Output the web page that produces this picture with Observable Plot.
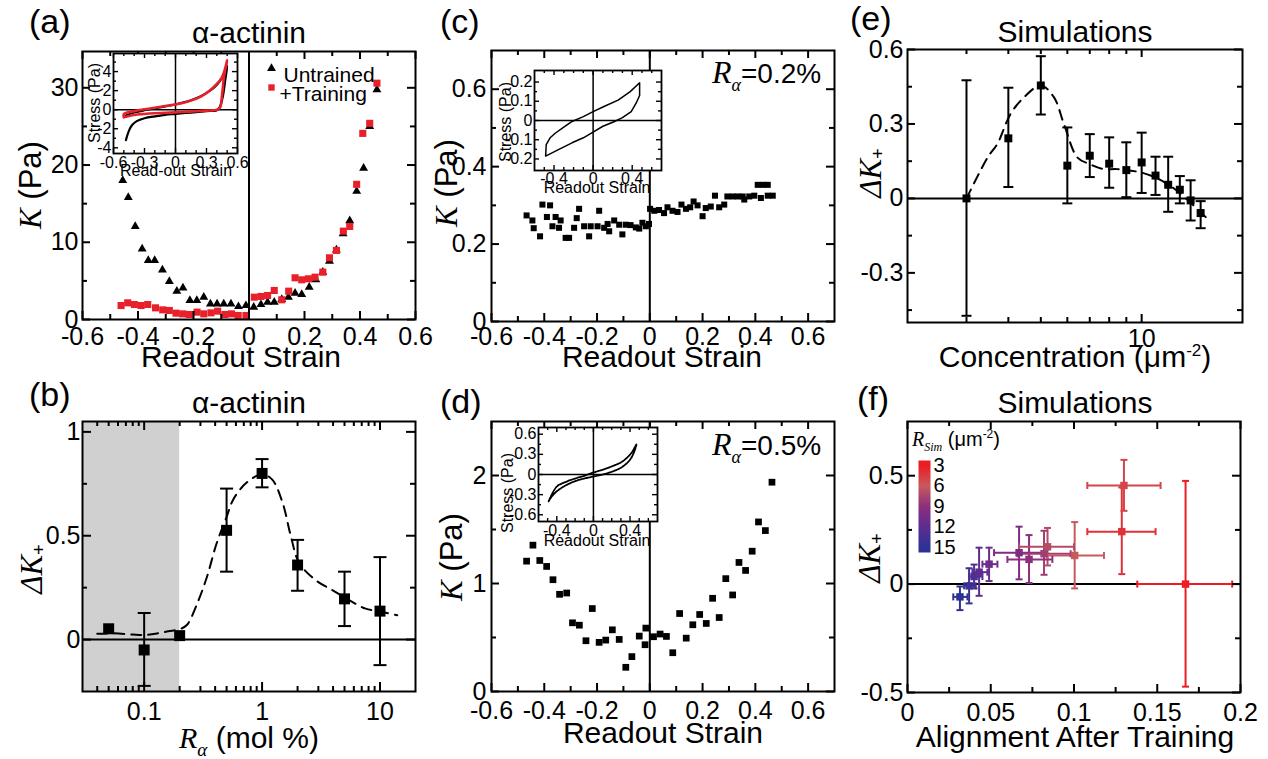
<!DOCTYPE html>
<html><head><meta charset="utf-8">
<script src="https://cdn.jsdelivr.net/npm/d3@7"></script>
<script src="https://cdn.jsdelivr.net/npm/@observablehq/plot@0.6"></script>
<style>
body{margin:0;background:#fff;}
#fig{position:relative;width:1268px;height:759px;overflow:hidden;background:#fff;}
.p{position:absolute;}
#ov{position:absolute;left:0;top:0;pointer-events:none;}
</style></head><body><div id="fig"></div>
<script>
// ---------------- DATA ----------------
// (a) alpha-actinin, K vs readout strain
const strainUntrained = [-0.455,-0.435,-0.41,-0.385,-0.363,-0.34,-0.312,-0.287,-0.26,-0.238,-0.213,-0.188,-0.163,-0.139,-0.115,-0.091,-0.065,-0.038,-0.011,0.017,0.043,0.067,0.091,0.118,0.142,0.166,0.19,0.217,0.241,0.266,0.29,0.315,0.339,0.363,0.388,0.413,0.435,0.461];
const kUntrained = [18.0,15.8,12.05,9.15,7.64,7.64,6.43,4.93,3.67,4.1,2.46,2.46,2.9,2.03,2.03,2.03,2.03,1.68,1.81,1.6,1.94,2.25,2.25,2.6,2.89,3.4,3.24,4.19,5.14,6.13,7.56,9.0,11.1,12.8,16.6,19.6,25.0,29.75];
const strainTraining = [-0.461,-0.437,-0.413,-0.389,-0.365,-0.337,-0.311,-0.287,-0.263,-0.239,-0.215,-0.187,-0.163,-0.137,-0.113,-0.087,-0.063,-0.039,-0.011,0.019,0.043,0.067,0.091,0.118,0.143,0.166,0.19,0.214,0.238,0.266,0.29,0.315,0.34,0.363,0.388,0.41,0.435,0.461];
const kTraining = [1.81,2.16,1.94,1.81,1.94,1.51,1.25,1.17,0.82,0.73,0.65,0.95,0.73,0.86,1.08,0.65,0.73,0.52,0.52,2.89,2.98,3.11,3.76,2.55,3.67,5.4,5.14,5.27,5.48,6.13,7.99,8.94,11.44,12.05,17.5,24.1,25.4,30.6];
// (a) inset: stress vs read-out strain loops
const insetAUntStrain = [-0.48,-0.45,-0.42,-0.375,-0.3,-0.2,-0.1,0,0.1,0.2,0.3,0.4,0.43,0.46,0.48,0.5,0.47,0.43,0.38,0.32,0.25,0.15,0.05,0,-0.1,-0.2,-0.3,-0.4,-0.48];
const insetAUntStress = [-3.2,-2.2,-1.6,-1.2,-0.9,-0.7,-0.55,-0.45,-0.35,-0.25,-0.15,-0.05,0.3,1.5,3,4.6,3.8,3.0,2.4,1.9,1.45,1.0,0.7,0.55,0.35,0.15,-0.05,-0.3,-0.6];
const insetATrStrain = [-0.5,-0.4,-0.3,-0.2,-0.1,0,0.1,0.2,0.3,0.4,0.43,0.45,0.47,0.5,0.48,0.45,0.4,0.32,0.25,0.15,0.05,0,-0.1,-0.2,-0.3,-0.4,-0.5,-0.5];
const insetATrStress = [-0.8,-0.55,-0.45,-0.38,-0.33,-0.28,-0.22,-0.17,-0.1,0.0,0.2,1.5,3.5,5.2,4.3,3.4,2.7,1.9,1.4,0.95,0.65,0.55,0.38,0.2,0.05,-0.15,-0.45,-0.8];

// (b) Delta K+ vs R_alpha (mol %)
const rAlpha = [0.05,0.1,0.2,0.5,1,2,5,10];
const dKB = [0.052,-0.05,0.019,0.526,0.80,0.359,0.196,0.137];
const dKBlo = [0.052,-0.223,0.019,0.327,0.733,0.235,0.065,-0.123];
const dKBhi = [0.052,0.128,0.019,0.727,0.869,0.48,0.327,0.397];
const fitBx = [0.04,0.055,0.08,0.1,0.13,0.16,0.2,0.23,0.28,0.34,0.41,0.5,0.57,0.74,1,1.22,1.49,1.75,2.06,2.85,3.95,5.46,7.56,10.5,14];
const fitBy = [0.028,0.03,0.024,0.022,0.03,0.04,0.05,0.07,0.17,0.3,0.46,0.59,0.675,0.756,0.796,0.77,0.66,0.5,0.37,0.286,0.238,0.19,0.149,0.133,0.117];
const shadedRange = [0.03, 0.2];

// (c) R_alpha = 0.2%
const strainC = [-0.467,-0.445,-0.44,-0.416,-0.407,-0.39,-0.378,-0.369,-0.357,-0.344,-0.338,-0.319,-0.306,-0.287,-0.277,-0.268,-0.249,-0.23,-0.224,-0.198,-0.192,-0.173,-0.16,-0.154,-0.135,-0.116,-0.104,-0.091,-0.073,-0.053,-0.04,-0.028,-0.015,-0.003,0.001,0.017,0.035,0.054,0.067,0.086,0.105,0.12,0.137,0.153,0.166,0.181,0.2,0.212,0.231,0.247,0.263,0.282,0.294,0.314,0.333,0.352,0.358,0.377,0.396,0.409,0.421,0.428,0.447,0.447,0.466];
const kC = [0.274,0.261,0.241,0.22,0.302,0.27,0.30,0.246,0.27,0.242,0.261,0.216,0.216,0.242,0.267,0.291,0.246,0.22,0.246,0.246,0.286,0.242,0.252,0.233,0.261,0.25,0.225,0.25,0.249,0.243,0.24,0.255,0.246,0.252,0.291,0.286,0.288,0.28,0.295,0.286,0.283,0.302,0.291,0.295,0.31,0.3,0.272,0.293,0.297,0.325,0.295,0.302,0.323,0.323,0.323,0.323,0.315,0.323,0.325,0.353,0.319,0.353,0.353,0.325,0.325];
const insetCStrain = [-0.486,-0.48,-0.44,-0.385,-0.3,-0.216,-0.1,0,0.1,0.256,0.38,0.476,0.476,0.44,0.39,0.3,0.22,0.1,0,-0.1,-0.216,-0.35,-0.486];
const insetCStress = [-0.185,-0.125,-0.09,-0.065,-0.035,-0.005,0.02,0.046,0.07,0.106,0.15,0.196,0.13,0.09,0.046,0.015,-0.005,-0.03,-0.06,-0.09,-0.116,-0.15,-0.185];

// (d) R_alpha = 0.5%
const strainD = [-0.467,-0.443,-0.417,-0.391,-0.367,-0.342,-0.315,-0.293,-0.267,-0.242,-0.218,-0.192,-0.167,-0.142,-0.116,-0.091,-0.068,-0.04,-0.018,-0.015,0.014,0.039,0.063,0.087,0.113,0.138,0.163,0.189,0.214,0.238,0.263,0.288,0.314,0.338,0.363,0.388,0.412,0.438,0.463];
const kD = [1.207,1.355,1.213,1.158,1.035,0.9,0.912,0.636,0.614,0.47,0.768,0.455,0.476,0.571,0.482,0.224,0.323,0.513,0.433,0.587,0.507,0.532,0.51,0.359,0.722,0.494,0.618,0.713,0.63,0.863,0.685,1.045,0.894,1.195,1.121,1.299,1.57,1.49,1.938];
const insetDStrain = [-0.49,-0.45,-0.4,-0.3,-0.2,-0.1,0,0.1,0.2,0.3,0.35,0.4,0.44,0.47,0.42,0.35,0.3,0.2,0.1,0,-0.1,-0.2,-0.3,-0.4,-0.49];
const insetDStress = [-0.4,-0.32,-0.25,-0.16,-0.1,-0.06,-0.03,0.0,0.04,0.1,0.15,0.22,0.32,0.45,0.33,0.23,0.18,0.12,0.07,0.03,-0.02,-0.06,-0.11,-0.18,-0.4];

// (e) simulations: Delta K+ vs concentration
const concE = [3,4,5,6,7,8,9,10,11,12,13,14,15];
const dKE = [0,0.242,0.455,0.132,0.172,0.14,0.114,0.145,0.092,0.055,0.035,-0.008,-0.059];
const dKElo = [-0.473,0.046,0.338,-0.02,0.086,0.043,0.005,0.022,0.014,-0.054,-0.02,-0.089,-0.12];
const dKEhi = [0.476,0.446,0.573,0.286,0.259,0.246,0.226,0.265,0.168,0.168,0.09,0.073,-0.011];
const fitEx = [3,3.47,3.71,4.06,4.46,5,5.47,5.86,6.43,7,7.71,8.45,10,11,12.2,13.3,15.8];
const fitEy = [0,0.165,0.22,0.34,0.408,0.455,0.408,0.3,0.165,0.138,0.118,0.118,0.104,0.084,0.05,0.01,-0.085];

// (f) simulations: Delta K+ vs alignment after training
const alignF = [0.167,0.1287,0.13,0.1004,0.0841,0.082,0.073,0.067,0.049,0.043,0.04,0.037,0.0315];
const alignFlo = [0.138,0.108,0.108,0.084,0.067,0.066,0.06,0.052,0.045,0.039,0.037,0.034,0.0275];
const alignFhi = [0.195,0.149,0.152,0.118,0.1,0.098,0.087,0.082,0.054,0.048,0.045,0.041,0.036];
const rsimTicks = [3,6,9,12,15];
const rsimColors = ["#ec1c24","#c75a5c","#8d2e7e","#5d2c8f","#2b3494"];

// tick values
const strainTicks = [-0.6,-0.4,-0.2,0,0.2,0.4,0.6];
const strainMinor = [-0.5,-0.3,-0.1,0.1,0.3,0.5];
const kATicks = [0,10,20,30], kAMinor = [5,15,25];
const rTicks = [0.1,1,10], rMinor = [0.04,0.05,0.06,0.07,0.08,0.09,0.2,0.3,0.4,0.5,0.6,0.7,0.8,0.9,2,3,4,5,6,7,8,9];
const dKBTicks = [0,0.5,1], dKBMinor = [0.25,0.75];
const kCTicks = [0,0.2,0.4,0.6], kCMinor = [0.1,0.3,0.5];
const kDTicks = [0,1,2], kDMinor = [0.5,1.5];
const concTicks = [10], concMinor = [3,4,5,6,7,8,9];
const dKETicks = [-0.3,0,0.3,0.6], dKEMinor = [-0.45,-0.15,0.15,0.45];
const alignTicks = [0,0.05,0.1,0.15,0.2], alignMinor = [0.025,0.075,0.125,0.175];
const dKFTicks = [-0.5,0,0.5], dKFMinor = [-0.25,0.25];
const insetATicksX = [-0.6,-0.3,0,0.3,0.6], insetAMinorX = [-0.5,-0.4,-0.2,-0.1,0.1,0.2,0.4,0.5];
const insetATicksY = [-4,-2,0,2,4], insetAMinorY = [-3,-1,1,3,5];
const insetCDTicksX = [-0.4,0,0.4], insetCDMinorX = [-0.5,-0.3,-0.2,-0.1,0.1,0.2,0.3,0.5,0.6];
const insetCTicksY = [-0.2,-0.1,0,0.1,0.2], insetCMinorY = [-0.15,-0.05,0.05,0.15];
const insetDTicksY = [-0.6,-0.3,0,0.3,0.6], insetDMinorY = [-0.45,-0.15,0.15,0.45];

// ---------------- HELPERS ----------------
const SANS = "Liberation Sans, Arial, Helvetica, sans-serif";
const SERIF = "Liberation Serif, Times New Roman, serif";
const RED = "#e8202a";
const fig = document.getElementById("fig");
const zip = (xs, ys) => xs.map((x, i) => ({x, y: ys[i]}));
const style = (fs) => ({fontFamily: SANS, fontSize: fs + "px", background: "transparent", maxWidth: "none", overflow: "visible", color: "black"});
const hcap = {draw(c, s) { const w = Math.sqrt(s / Math.PI); c.moveTo(-w, 0); c.lineTo(w, 0); }};
const vcap = {draw(c, s) { const w = Math.sqrt(s / Math.PI); c.moveTo(0, -w); c.lineTo(0, w); }};

// inward frame ticks on all four sides; fw/fh = frame width/height in px
function box(o) {
  const tl = o.tl ?? 8, ml = o.ml ?? 5, sw = o.sw ?? 2, fw = o.fw, fh = o.fh;
  const tx = (ticks, len) => [
    Plot.tickX(ticks, {x: d => d, insetTop: fh - len, strokeWidth: sw, stroke: "black"}),
    Plot.tickX(ticks, {x: d => d, insetBottom: fh - len, strokeWidth: sw, stroke: "black"})
  ];
  const ty = (ticks, len) => [
    Plot.tickY(ticks, {y: d => d, insetRight: fw - len, strokeWidth: sw, stroke: "black"}),
    Plot.tickY(ticks, {y: d => d, insetLeft: fw - len, strokeWidth: sw, stroke: "black"})
  ];
  const m = [
    Plot.axisX({ticks: o.xMajor, anchor: "bottom", tickSize: 0, tickPadding: o.xPad, tickFormat: o.xFmt ?? String, label: null}),
    Plot.axisY({ticks: o.yMajor, anchor: "left", tickSize: 0, tickPadding: o.yPad, tickFormat: o.yFmt ?? String, label: null}),
    ...tx(o.xMajor, tl), ...ty(o.yMajor, tl)
  ];
  if (o.xMinor && o.xMinor.length) m.push(...tx(o.xMinor, ml));
  if (o.yMinor && o.yMinor.length) m.push(...ty(o.yMinor, ml));
  return m;
}
function place(plot, left, top) {
  const d = document.createElement("div");
  d.className = "p"; d.style.left = left + "px"; d.style.top = top + "px";
  d.appendChild(plot); fig.appendChild(d); return plot;
}
function errBars(data, capR, sw) {
  return [
    Plot.ruleX(data, {x: "x", y1: "lo", y2: "hi", strokeWidth: sw}),
    Plot.dot(data, {x: "x", y: "lo", symbol: hcap, r: capR, fill: "none", stroke: "black", strokeWidth: sw}),
    Plot.dot(data, {x: "x", y: "hi", symbol: hcap, r: capR, fill: "none", stroke: "black", strokeWidth: sw})
  ];
}
const MAINFS = 25;

// ---------------- (a) ----------------
place(Plot.plot({
  width: 413, height: 318, marginLeft: 70, marginRight: 10, marginTop: 10, marginBottom: 40,
  x: {domain: [-0.6, 0.6]}, y: {domain: [0, 34.7]}, style: style(MAINFS),
  marks: [
    Plot.ruleX([0], {strokeWidth: 2}),
    Plot.dot(zip(strainUntrained, kUntrained), {x: "x", y: "y", symbol: "triangle", r: 3.3, fill: "black"}),
    Plot.dot(zip(strainTraining, kTraining), {x: "x", y: "y", symbol: "square", r: 4, fill: RED}),
    Plot.dot([0], {frameAnchor: "top-left", dx: 189, dy: 17, symbol: "triangle", r: 3.3, fill: "black"}),
    Plot.dot([0], {frameAnchor: "top-left", dx: 189, dy: 36, symbol: "square", r: 3.6, fill: RED}),
    Plot.text(["Untrained"], {frameAnchor: "top-left", dx: 201, dy: 16, text: d => d, textAnchor: "start", fontSize: 21}),
    Plot.text(["+Training"], {frameAnchor: "top-left", dx: 197, dy: 35, text: d => d, textAnchor: "start", fontSize: 21}),
    ...box({xMajor: strainTicks, xMinor: strainMinor, yMajor: kATicks, yMinor: kAMinor, xPad: 8, yPad: 4, fw: 333, fh: 268}),
    Plot.frame({strokeWidth: 2})
  ]
}), 12, 41);

// (a) inset
place(Plot.plot({
  width: 164, height: 134, marginLeft: 30, marginRight: 10, marginTop: 4, marginBottom: 30,
  x: {domain: [-0.6, 0.6]}, y: {domain: [-4.6, 5.9]}, style: style(16),
  marks: [
    Plot.frame({fill: "white", stroke: null}),
    Plot.ruleX([0], {strokeWidth: 1.5}), Plot.ruleY([0], {strokeWidth: 1.5}),
    Plot.line(zip(insetAUntStrain, insetAUntStress), {x: "x", y: "y", stroke: "black", strokeWidth: 2.2, curve: "catmull-rom"}),
    Plot.line(zip(insetATrStrain, insetATrStress), {x: "x", y: "y", stroke: RED, strokeWidth: 2.6, curve: "catmull-rom"}),
    ...box({xMajor: insetATicksX, xMinor: insetAMinorX, yMajor: insetATicksY, yMinor: insetAMinorY, xPad: 3, yPad: 2, tl: 5, ml: 3, sw: 1.4, fw: 124, fh: 100}),
    Plot.frame({strokeWidth: 1.8})
  ]
}), 83, 49);

// ---------------- (b) ----------------
const dataB = rAlpha.map((x, i) => ({x, y: dKB[i], lo: dKBlo[i], hi: dKBhi[i]}));
place(Plot.plot({
  width: 413, height: 320, marginLeft: 70, marginRight: 10, marginTop: 10, marginBottom: 40,
  x: {type: "log", domain: [0.03, 20]}, y: {domain: [-0.25, 1.05]}, style: style(MAINFS),
  marks: [
    Plot.rect([shadedRange], {x1: d => d[0], x2: d => d[1], fill: "#d0d0d0"}),
    Plot.ruleY([0], {strokeWidth: 2}),
    Plot.line(zip(fitBx, fitBy), {x: "x", y: "y", curve: "catmull-rom", strokeWidth: 2, strokeDasharray: "10,7"}),
    ...errBars(dataB.filter(d => d.hi !== d.lo), 6.5, 2),
    Plot.dot(dataB, {x: "x", y: "y", symbol: "square", r: 6.2, fill: "black"}),
    ...box({xMajor: rTicks, xMinor: rMinor, yMajor: dKBTicks, yMinor: dKBMinor, xPad: 11, yPad: 2, tl: 9, fw: 333, fh: 270}),
    Plot.frame({strokeWidth: 2})
  ]
}), 12, 411);

// ---------------- (c) ----------------
place(Plot.plot({
  width: 423, height: 321, marginLeft: 70, marginRight: 10, marginTop: 10, marginBottom: 40,
  x: {domain: [-0.6, 0.7]}, y: {domain: [0, 0.7]}, style: style(MAINFS),
  marks: [
    Plot.ruleX([0], {strokeWidth: 2}),
    Plot.dot(zip(strainC, kC), {x: "x", y: "y", symbol: "square", r: 3.4, fill: "black"}),
    ...box({xMajor: strainTicks, xMinor: strainMinor, yMajor: kCTicks, yMinor: kCMinor, xPad: 6, yPad: 5, fw: 343, fh: 271}),
    Plot.frame({strokeWidth: 2})
  ]
}), 421, 40);
place(Plot.plot({
  width: 177, height: 134, marginLeft: 40, marginRight: 10, marginTop: 4, marginBottom: 30,
  x: {domain: [-0.6, 0.7]}, y: {domain: [-0.26, 0.26]}, style: style(16),
  marks: [
    Plot.frame({fill: "white", stroke: null}),
    Plot.ruleX([0], {strokeWidth: 1.5}), Plot.ruleY([0], {strokeWidth: 1.5}),
    Plot.line(zip(insetCStrain, insetCStress), {x: "x", y: "y", stroke: "black", strokeWidth: 1.5}),
    ...box({xMajor: insetCDTicksX, xMinor: insetCDMinorX, yMajor: insetCTicksY, yMinor: insetCMinorY, xPad: 2, yPad: 2, tl: 5, ml: 3, sw: 1.4, fw: 127, fh: 100}),
    Plot.frame({strokeWidth: 1.8})
  ]
}), 494, 66);

// ---------------- (d) ----------------
place(Plot.plot({
  width: 423, height: 320, marginLeft: 70, marginRight: 10, marginTop: 10, marginBottom: 40,
  x: {domain: [-0.6, 0.7]}, y: {domain: [0, 2.5]}, style: style(MAINFS),
  marks: [
    Plot.ruleX([0], {strokeWidth: 2}),
    Plot.dot(zip(strainD, kD), {x: "x", y: "y", symbol: "square", r: 3.8, fill: "black"}),
    ...box({xMajor: strainTicks, xMinor: strainMinor, yMajor: kDTicks, yMinor: kDMinor, xPad: 10, yPad: 5, fw: 343, fh: 270}),
    Plot.frame({strokeWidth: 2})
  ]
}), 421, 411);
place(Plot.plot({
  width: 169, height: 128, marginLeft: 40, marginRight: 10, marginTop: 4, marginBottom: 30,
  x: {domain: [-0.6, 0.7]}, y: {domain: [-0.7, 0.7]}, style: style(16),
  marks: [
    Plot.frame({fill: "white", stroke: null}),
    Plot.ruleX([0], {strokeWidth: 1.5}), Plot.ruleY([0], {strokeWidth: 1.5}),
    Plot.line(zip(insetDStrain, insetDStress), {x: "x", y: "y", stroke: "black", strokeWidth: 1.8, strokeDasharray: "2,1", curve: "catmull-rom"}),
    ...box({xMajor: insetCDTicksX, xMinor: insetCDMinorX, yMajor: insetDTicksY, yMinor: insetDMinorY, xPad: 3, yPad: 2, tl: 5, ml: 3, sw: 1.4, fw: 119, fh: 94}),
    Plot.frame({strokeWidth: 1.8})
  ]
}), 498, 423);

// ---------------- (e) ----------------
const dataE = concE.map((x, i) => ({x, y: dKE[i], lo: dKElo[i], hi: dKEhi[i]}));
place(Plot.plot({
  width: 415, height: 323, marginLeft: 70, marginRight: 10, marginTop: 10, marginBottom: 40,
  x: {type: "log", domain: [2, 20]}, y: {domain: [-0.5, 0.6]}, style: style(MAINFS),
  marks: [
    Plot.ruleY([0], {strokeWidth: 2}),
    Plot.line(zip(fitEx, fitEy), {x: "x", y: "y", curve: "catmull-rom", strokeWidth: 2, strokeDasharray: "10,7"}),
    ...errBars(dataE, 5, 2),
    Plot.dot(dataE, {x: "x", y: "y", symbol: "square", r: 4.5, fill: "black"}),
    ...box({xMajor: concTicks, xMinor: concMinor, yMajor: dKETicks, yMinor: dKEMinor, xPad: 7, yPad: 4, fw: 335, fh: 273}),
    Plot.frame({strokeWidth: 2})
  ]
}), 837, 39);

// ---------------- (f) ----------------
const dataF = alignF.map((x, i) => ({x, y: dKE[i], lo: dKElo[i], hi: dKEhi[i], xlo: alignFlo[i], xhi: alignFhi[i], r: concE[i]})).reverse();
const colorF = {type: "linear", domain: rsimTicks, range: rsimColors, clamp: true};
place(Plot.plot({
  width: 413, height: 321, marginLeft: 70, marginRight: 10, marginTop: 10, marginBottom: 40,
  x: {domain: [0, 0.2]}, y: {domain: [-0.5, 0.75]}, color: colorF, style: style(MAINFS),
  marks: [
    Plot.ruleY([0], {strokeWidth: 2}),
    Plot.ruleX(dataF, {x: "x", y1: "lo", y2: "hi", stroke: "r", strokeWidth: 2}),
    Plot.ruleY(dataF, {y: "y", x1: "xlo", x2: "xhi", stroke: "r", strokeWidth: 2}),
    Plot.dot(dataF, {x: "x", y: "lo", symbol: hcap, r: 3.5, fill: "none", stroke: "r", strokeWidth: 2}),
    Plot.dot(dataF, {x: "x", y: "hi", symbol: hcap, r: 3.5, fill: "none", stroke: "r", strokeWidth: 2}),
    Plot.dot(dataF, {x: "xlo", y: "y", symbol: vcap, r: 3.5, fill: "none", stroke: "r", strokeWidth: 2}),
    Plot.dot(dataF, {x: "xhi", y: "y", symbol: vcap, r: 3.5, fill: "none", stroke: "r", strokeWidth: 2}),
    Plot.dot(dataF, {x: "x", y: "y", symbol: "square", r: 4.2, fill: "r"}),
    ...box({xMajor: alignTicks, xMinor: alignMinor, yMajor: dKFTicks, yMinor: dKFMinor, xPad: 11, yPad: 4, fw: 333, fh: 271}),
    Plot.frame({strokeWidth: 2})
  ]
}), 837, 411);

// (f) colour bar legend
const cb = place(Plot.plot({
  width: 42, height: 92, marginLeft: 0, marginRight: 30, marginTop: 0, marginBottom: 0,
  y: {domain: [2.27, 15.73], reverse: true}, style: style(20),
  marks: [
    Plot.frame({fill: "white", stroke: null}),
    Plot.axisY({ticks: rsimTicks, anchor: "right", tickSize: 0, tickPadding: 3, tickFormat: String, label: null})
  ]
}), 918, 460);
(function () {
  const ns = "http://www.w3.org/2000/svg";
  const svg = cb.tagName.toLowerCase() === "svg" ? cb : cb.querySelector("svg");
  const ys = cb.scale("y");
  const defs = document.createElementNS(ns, "defs");
  const lg = document.createElementNS(ns, "linearGradient");
  lg.setAttribute("id", "rsimGrad");
  lg.setAttribute("x1", "0"); lg.setAttribute("y1", "0"); lg.setAttribute("x2", "0"); lg.setAttribute("y2", "1");
  rsimTicks.forEach((v, i) => {
    const st = document.createElementNS(ns, "stop");
    st.setAttribute("offset", (ys.apply(v) / 92).toFixed(3));
    st.setAttribute("stop-color", rsimColors[i]);
    lg.appendChild(st);
  });
  defs.appendChild(lg); svg.insertBefore(defs, svg.firstChild);
  const fr = svg.querySelector('[aria-label="frame"]');
  const rect = fr && (fr.tagName.toLowerCase() === "rect" ? fr : fr.querySelector("rect"));
  if (rect) rect.setAttribute("fill", "url(#rsimGrad)");
})();

// ---------------- TEXT OVERLAY ----------------
const ov = [];
const I = (s, size) => `<tspan font-family="${SERIF}" font-style="italic"${size ? ` font-size="${size}"` : ""}>${s}</tspan>`;
function T(x, y, content, size = 30, anchor = "middle", rot = false) {
  if (rot) ov.push(`<text transform="translate(${x},${y}) rotate(-90)" text-anchor="${anchor}" dominant-baseline="central" font-size="${size}">${content}</text>`);
  else ov.push(`<text x="${x}" y="${y}" text-anchor="${anchor}" font-size="${size}">${content}</text>`);
}
const KPa = `${I("K")} (Pa)`;
const dK = `${I("ΔK")}<tspan dy="8" font-size="18">+</tspan>`;
// (a)
T(29, 33, "(a)", 34, "start");
T(249, 43, "α-actinin", 30);
T(241, 367, "Readout Strain", 30);
T(30, 185, KPa, 31, "middle", true);
T(94, 103, "Stress (Pa)", 16, "middle", true);
T(176, 176, "Read-out Strain", 16);
// (b)
T(29, 406, "(b)", 34, "start");
T(249, 413, "α-actinin", 30);
T(249, 748, `${I("R")}<tspan dy="8" font-family="${SERIF}" font-style="italic" font-size="19">α</tspan><tspan dy="-8"> (mol %)</tspan>`, 30);
T(31, 569, dK, 31, "middle", true);
// (c)
T(440, 33, "(c)", 34, "start");
T(662, 367, "Readout Strain", 30);
T(446, 183, KPa, 31, "middle", true);
T(712, 83, `${I("R", 32)}<tspan dy="8" font-family="${SERIF}" font-style="italic" font-size="18">α</tspan><tspan dy="-8">=0.2%</tspan>`, 28, "start");
T(505, 122, "Stress (Pa)", 16, "middle", true);
T(597, 193, "Readout Strain", 16);
// (d)
T(440, 413, "(d)", 34, "start");
T(663, 743, "Readout Strain", 30);
T(451, 557, KPa, 31, "middle", true);
T(712, 455, `${I("R", 32)}<tspan dy="8" font-family="${SERIF}" font-style="italic" font-size="18">α</tspan><tspan dy="-8">=0.5%</tspan>`, 28, "start");
T(507, 493, "Stress (Pa)", 16, "middle", true);
T(597, 546, "Readout Strain", 16);
// (e)
T(850, 30, "(e)", 34, "start");
T(1075, 42, "Simulations", 30);
T(1075, 367, `Concentration (μm<tspan dy="-11" font-size="17">-2</tspan><tspan dy="11">)</tspan>`, 30);
T(870, 173, dK, 31, "middle", true);
// (f)
T(857, 410, "(f)", 34, "start");
T(1075, 413, "Simulations", 30);
T(1075, 747, "Alignment After Training", 30);
T(869, 558, dK, 31, "middle", true);
T(912, 446, `${I("R")}<tspan dy="5" font-family="${SERIF}" font-style="italic" font-size="12">Sim</tspan><tspan dy="-5"> (μm</tspan><tspan dy="-8" font-size="12">-2</tspan><tspan dy="8">)</tspan>`, 20, "start");

const ovSvg = document.createElementNS("http://www.w3.org/2000/svg", "svg");
ovSvg.setAttribute("id", "ov"); ovSvg.setAttribute("width", 1268); ovSvg.setAttribute("height", 759);
ovSvg.setAttribute("font-family", SANS); ovSvg.setAttribute("fill", "black");
ovSvg.innerHTML = ov.join("");
fig.appendChild(ovSvg);
</script></body></html>
